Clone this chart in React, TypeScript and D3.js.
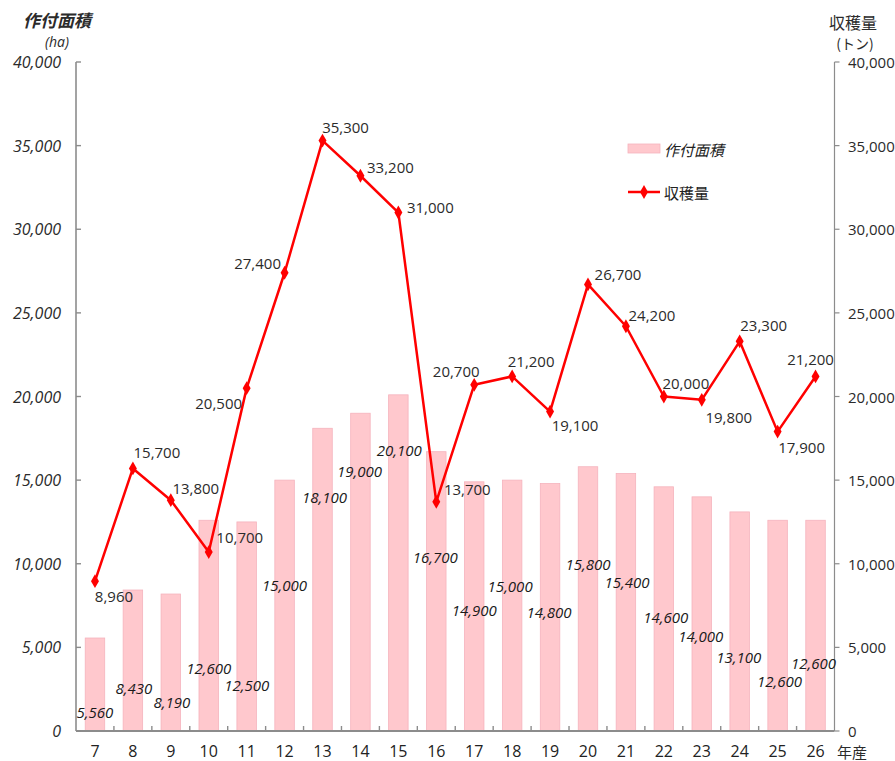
import React from "react";
import * as d3 from "d3";

// Crop year (Heisei), planted area (ha) and harvest (t)
const years = ["7", "8", "9", "10", "11", "12", "13", "14", "15", "16", "17", "18", "19", "20", "21", "22", "23", "24", "25", "26"];
const plantedArea = [5560, 8430, 8190, 12600, 12500, 15000, 18100, 19000, 20100, 16700, 14900, 15000, 14800, 15800, 15400, 14600, 14000, 13100, 12600, 12600];
const harvest = [8960, 15700, 13800, 10700, 20500, 27400, 35300, 33200, 31000, 13700, 20700, 21200, 19100, 26700, 24200, 20000, 19800, 23300, 17900, 21200];
const tickValues = [0, 5000, 10000, 15000, 20000, 25000, 30000, 35000, 40000];

// Label placement (px offsets): bar labels from the bar top, line labels from the point
const barLabelOffsets: [number, number][] = [
  [0, 74], [1, 98], [1, 108], [0, 148], [0, 163], [0, 105], [2, 69], [-1, 58], [1, 55], [-1, 105],
  [0, 128], [-2, 106], [-1, 129], [0, 97], [1, 109], [2, 130], [-1, 139], [-1, 145], [2, 161], [-2, 143],
];
const lineLabelOffsets: [number, number][] = [
  [19, 15], [24, -16], [25, -12], [31, -15], [-28, 15], [-27, -10], [23, -14], [30, -9], [32, -6], [31, -13],
  [-18, -14], [19, -15], [25, 13], [30, -10], [26, -11], [22, -14], [27, 17], [24, -16], [24, 15], [-5, -17],
];

const W = 895;
const H = 761;
const left = 76;
const right = 834.5;
const top = 62;
const bottom = 731;

const fmt = d3.format(",");
const FONT = "'Open Sans', 'Noto Sans CJK JP', sans-serif";
const JP = "'Noto Sans CJK JP', 'Open Sans', sans-serif";
const AXIS = "#8c8c8c";
const TEXT = "#2b2b2b";

export default function App() {
  const x = d3.scaleBand<string>().domain(years).range([left, right]).paddingInner(0).paddingOuter(0);
  const y = d3.scaleLinear().domain([0, 40000]).range([bottom, top]);
  const barW = 19.5;
  const cx = (i: number) => (x(years[i]) as number) + x.bandwidth() / 2;

  const line = d3
    .line<number>()
    .x((_, i) => cx(i))
    .y((d) => y(d));

  const diamond = d3.symbol().type(d3.symbolDiamond).size(55)();

  return (
    <svg
      width={W}
      height={H}
      style={{ position: "absolute", left: 0, top: 0, background: "#fff" }}
      fontFamily={FONT}
    >
      {/* bars */}
      {plantedArea.map((v, i) => (
        <rect
          key={"b" + i}
          x={cx(i) - barW / 2}
          y={y(v)}
          width={barW}
          height={y(0) - y(v)}
          fill="#ffc8cd"
          stroke="#f5b3bd"
          strokeWidth={0.8}
        />
      ))}

      {/* axes */}
      <line x1={left} x2={left} y1={top} y2={bottom} stroke={AXIS} strokeWidth={1.6} />
      <line x1={right} x2={right} y1={top} y2={bottom} stroke={AXIS} strokeWidth={1.2} />
      <line x1={left} x2={right} y1={bottom} y2={bottom} stroke={AXIS} strokeWidth={2} />
      {tickValues.map((t) => (
        <g key={"t" + t}>
          <line x1={left} x2={left + 5} y1={y(t)} y2={y(t)} stroke={AXIS} strokeWidth={1.4} />
          <line x1={right} x2={right + 5} y1={y(t)} y2={y(t)} stroke={AXIS} strokeWidth={1.2} />
          <text x={61} y={y(t)} textAnchor="end" dominantBaseline="central" fontSize={16} fontStyle="italic" fill={TEXT}>
            {fmt(t)}
          </text>
          <text x={848} y={y(t)} textAnchor="start" dominantBaseline="central" fontSize={15} fill={TEXT}>
            {fmt(t)}
          </text>
        </g>
      ))}
      {years.map((yr, i) => (
        <g key={"x" + yr}>
          {i > 0 && (
            <line
              x1={x(yr) as number}
              x2={x(yr) as number}
              y1={bottom}
              y2={bottom - 5}
              stroke={AXIS}
              strokeWidth={1.4}
            />
          )}
          <text x={cx(i)} y={751} textAnchor="middle" dominantBaseline="central" fontSize={16} fill="#222">
            {yr}
          </text>
        </g>
      ))}
      <text x={837} y={751} dominantBaseline="central" fontSize={15} fontFamily={JP} fill={TEXT}>
        年産
      </text>

      {/* axis titles */}
      <text x={57} y={19} textAnchor="middle" dominantBaseline="central" fontSize={17} fontWeight="bold" fontStyle="italic" fontFamily={JP} fill={TEXT}>
        作付面積
      </text>
      <text x={57} y={41} textAnchor="middle" dominantBaseline="central" fontSize={14} fontStyle="italic" fill={TEXT}>
        (ha)
      </text>
      <text x={853} y={22} textAnchor="middle" dominantBaseline="central" fontSize={16} fontFamily={JP} fill={TEXT}>
        収穫量
      </text>
      <text x={855} y={43} textAnchor="middle" dominantBaseline="central" fontSize={14} fontFamily={JP} fill={TEXT}>
        (トン)
      </text>

      {/* bar value labels */}
      {plantedArea.map((v, i) => (
        <text
          key={"bl" + i}
          x={cx(i) + barLabelOffsets[i][0]}
          y={y(v) + barLabelOffsets[i][1]}
          textAnchor="middle"
          dominantBaseline="central"
          fontSize={15}
          fontStyle="italic"
          fill="#1a1a1a"
        >
          {fmt(v)}
        </text>
      ))}

      {/* harvest line */}
      <path d={line(harvest) as string} fill="none" stroke="#ff0000" strokeWidth={2.5} strokeLinejoin="round" />
      {harvest.map((v, i) => (
        <path key={"m" + i} d={diamond as string} transform={`translate(${cx(i)},${y(v)})`} fill="#ff0000" />
      ))}
      {harvest.map((v, i) => (
        <text
          key={"ll" + i}
          x={cx(i) + lineLabelOffsets[i][0]}
          y={y(v) + lineLabelOffsets[i][1]}
          textAnchor="middle"
          dominantBaseline="central"
          fontSize={15}
          fill={TEXT}
        >
          {fmt(v)}
        </text>
      ))}

      {/* legend */}
      <rect x={628} y={144} width={32} height={9} fill="#ffc8cd" stroke="#f5b3bd" strokeWidth={0.8} />
      <text x={664} y={149} dominantBaseline="central" fontSize={15} fontStyle="italic" fontFamily={JP} fill="#222">
        作付面積
      </text>
      <line x1={628} x2={660} y1={192} y2={192} stroke="#ff0000" strokeWidth={2.5} />
      <path d={diamond as string} transform="translate(644,192)" fill="#ff0000" />
      <text x={664} y={192} dominantBaseline="central" fontSize={15} fontFamily={JP} fill="#222">
        収穫量
      </text>
    </svg>
  );
}
